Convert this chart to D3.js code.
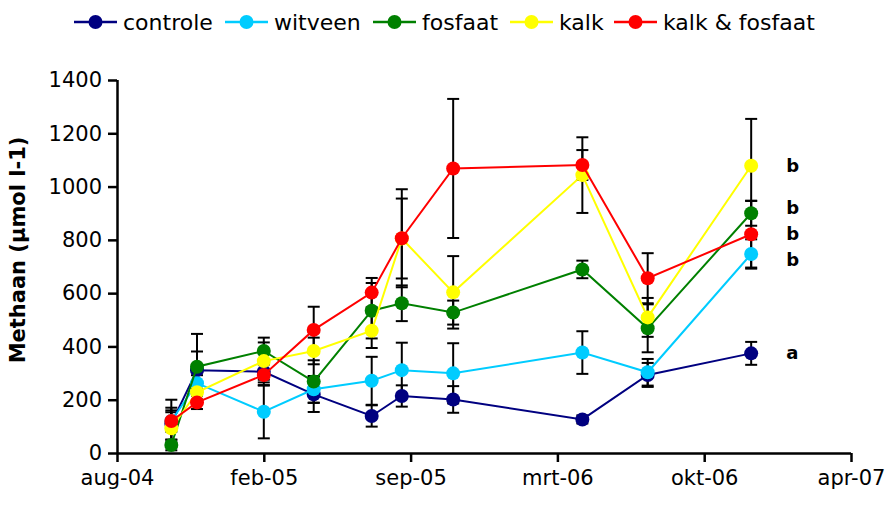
<!DOCTYPE html>
<html><head><meta charset="utf-8">
<script src="https://cdn.jsdelivr.net/npm/d3@7"></script>
<style>body{margin:0;background:#fff}svg{display:block}text{font-family:"DejaVu Sans",sans-serif}</style>
</head><body><svg id="c" width="888" height="507"></svg>
<script>
const dates = ["2004-10-14","2004-11-18","2005-02-17","2005-04-26","2005-07-14","2005-08-24","2005-11-02","2006-04-27","2006-07-25","2006-12-13"];
const seriesNames = ["controle","witveen","fosfaat","kalk","kalk & fosfaat"];
const seriesColors = ["#000080","#00CCFF","#008000","#FFFF00","#FF0000"];
const controle = [110,311,305,220,139,214,201,126,293,374];
const witveen = [120,262,155,239,271,311,299,377,303,747];
const fosfaat = [30,324,383,268,534,562,527,689,468,900];
const kalk = [93,228,345,383,459,805,603,1043,509,1078];
const kalkFosfaat = [120,190,293,462,602,806,1068,1081,656,821];
const errControle = [60,70,40,66,40,40,50,15,45,43];
const errWitveen = [40,30,100,50,90,103,113,80,50,55];
const errFosfaat = [20,123,50,80,104,67,45,33,90,47];
const errKalk = [60,40,70,50,65,150,136,142,73,176];
const errKalkFosfaat = [80,25,40,87,55,184,261,56,94,125];
const sigLetters = ["a","b","b","b","b"];
const xTickLabels = ["aug-04","feb-05","sep-05","mrt-06","okt-06","apr-07"];
const yTicks = [0,200,400,600,800,1000,1200,1400];
const yTitle = "Methaan (µmol l-1)";

const values = [controle,witveen,fosfaat,kalk,kalkFosfaat];
const errs = [errControle,errWitveen,errFosfaat,errKalk,errKalkFosfaat];
const parse = d3.utcParse("%Y-%m-%d");
const xStart = Date.UTC(2004,7,1);
const xTickDates = xTickLabels.map((d,i)=>new Date(xStart + i*200*86400000));
const x = d3.scaleUtc().domain([xTickDates[0], xTickDates[xTickDates.length-1]]).range([117,851]);
const y = d3.scaleLinear().domain([0,1400]).range([453,80]);
const svg = d3.select("#c");

// axes
const yAxis = svg.append("g").attr("transform","translate(117,0)")
  .call(d3.axisLeft(y).tickValues(yTicks).tickSize(9).tickPadding(6).tickFormat(d3.format("d")));
const xAxis = svg.append("g").attr("transform","translate(0,453)")
  .call(d3.axisBottom(x).tickValues(xTickDates).tickSize(9).tickPadding(8).tickFormat((d,i)=>xTickLabels[i]));
[yAxis,xAxis].forEach(a=>{
  a.select(".domain").attr("stroke","#000").attr("stroke-width",2.5);
  a.selectAll(".tick line").attr("stroke","#000").attr("stroke-width",2.5);
  a.selectAll("text").attr("font-size",21).attr("fill","#000").attr("font-family","DejaVu Sans");
});
xAxis.select(".domain").attr("d","M117,0.5H851");
yAxis.select(".domain").attr("d","M0.5,80V453");

svg.append("text").attr("transform","translate(25,250) rotate(-90)").attr("text-anchor","middle")
  .attr("font-size",21).attr("font-weight","bold").text(yTitle);

const data = values.map((vals,s)=>vals.map((v,i)=>({d:parse(dates[i]),v:v,e:errs[s][i]})));

// error bars
const eb = svg.append("g").attr("stroke","#000").attr("stroke-width",2);
data.forEach(ser=>ser.forEach(p=>{
  const cx = x(p.d);
  eb.append("line").attr("x1",cx).attr("x2",cx).attr("y1",y(p.v-p.e)).attr("y2",y(p.v+p.e));
  [p.v-p.e,p.v+p.e].forEach(t=>eb.append("line").attr("x1",cx-6).attr("x2",cx+6).attr("y1",y(t)).attr("y2",y(t)));
}));

const line = d3.line().x(p=>x(p.d)).y(p=>y(p.v));
data.forEach((ser,s)=>{
  svg.append("path").datum(ser).attr("d",line).attr("fill","none").attr("stroke",seriesColors[s]).attr("stroke-width",2);
  svg.append("g").selectAll("circle").data(ser).join("circle")
    .attr("cx",p=>x(p.d)).attr("cy",p=>y(p.v)).attr("r",7).attr("fill",seriesColors[s]);
});

// significance letters
const lastDate = parse(dates[dates.length-1]);
const letterOffsets = [0,6,-5,0,0];
data.forEach((ser,s)=>{
  svg.append("text").attr("x",x(lastDate)+35).attr("y",y(ser[ser.length-1].v)+6+letterOffsets[s])
    .attr("font-size",18).attr("font-weight","bold").text(sigLetters[s]);
});

// legend
const legX = [74,225,373,510,614];
const lg = svg.append("g");
seriesNames.forEach((n,s)=>{
  const g = lg.append("g").attr("transform",`translate(${legX[s]},22)`);
  g.append("line").attr("x1",0).attr("x2",43).attr("stroke",seriesColors[s]).attr("stroke-width",2.5);
  g.append("circle").attr("cx",21.5).attr("r",7).attr("fill",seriesColors[s]);
  g.append("text").attr("x",49).attr("y",7.5).attr("font-size",22).text(n);
});
</script></body></html>
